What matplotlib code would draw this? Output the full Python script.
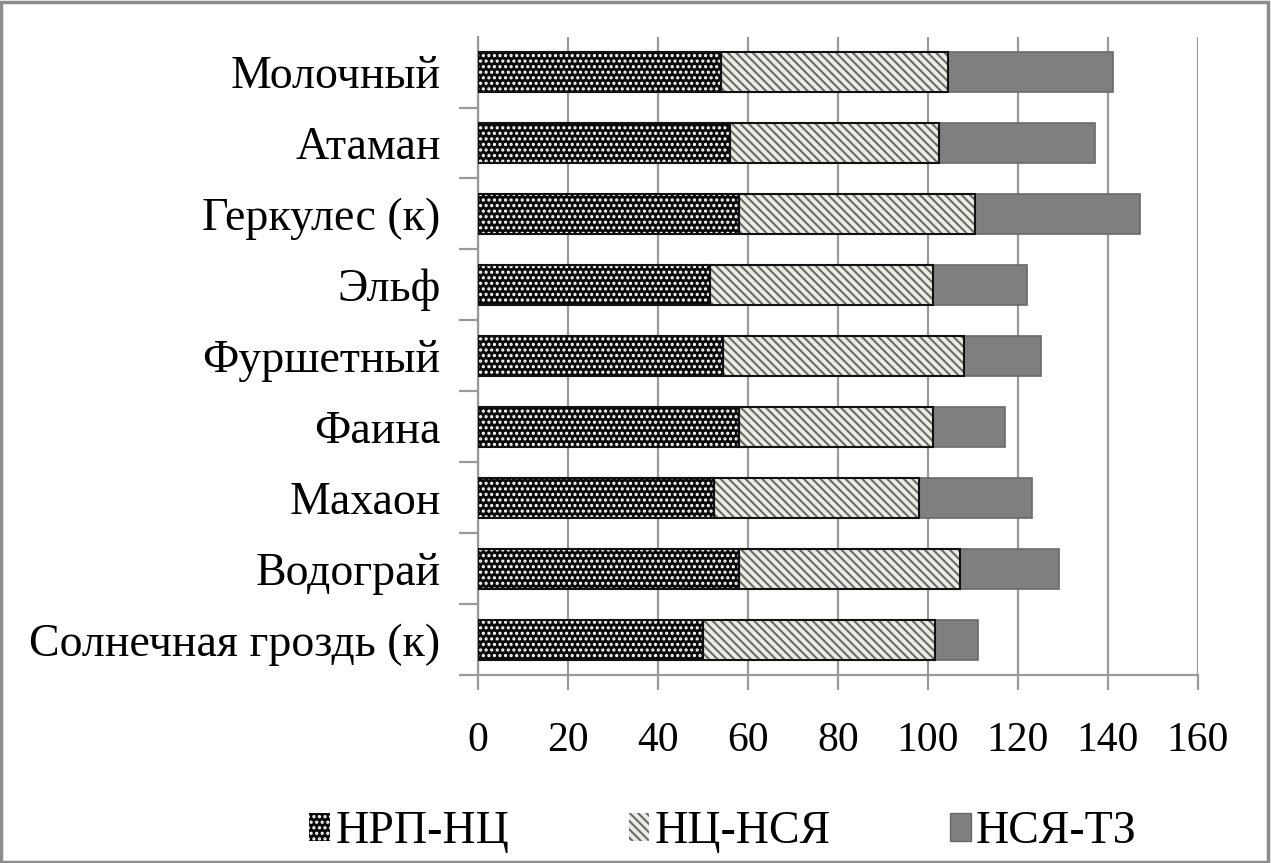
import matplotlib
matplotlib.use("Agg")
import matplotlib.pyplot as plt
from matplotlib.patches import Patch, Rectangle
import numpy as np

plt.rcParams['font.family'] = ['Liberation Serif', 'DejaVu Serif']
plt.rcParams['hatch.linewidth'] = 1.5

# Varieties (bottom to top) and stage durations, days
varieties = ["Солнечная гроздь (к)", "Водограй", "Махаон", "Фаина", "Фуршетный",
             "Эльф", "Геркулес (к)", "Атаман", "Молочный"]
nrp_nc = [50.0, 58.0, 52.5, 58.0, 54.5, 51.5, 58.0, 56.0, 54.0]
nc_nsya = [51.5, 49.0, 45.5, 43.0, 53.5, 49.5, 52.5, 46.5, 50.5]
nsya_tz = [9.5, 22.0, 25.0, 16.0, 17.0, 21.0, 36.5, 34.5, 36.5]
series_names = ["НРП-НЦ", "НЦ-НСЯ", "НСЯ-ТЗ"]
x_ticks = [0, 20, 40, 60, 80, 100, 120, 140, 160]

fig = plt.figure(figsize=(12.71, 8.63), dpi=100)
ax = fig.add_axes([0.3761, 0.2173, 0.5665, 0.7404])

y = np.arange(len(varieties))
h = 0.56
left1 = np.zeros(len(varieties))
left2 = np.array(nrp_nc)
left3 = left2 + np.array(nc_nsya)

# segment 1: black with white dots
ax.barh(y, nrp_nc, h, left=left1, color="#0a0a0a", edgecolor="white",
        hatch="...", linewidth=0, zorder=3)
ax.barh(y, nrp_nc, h, left=left1, fill=False, edgecolor="#111111",
        linewidth=1.5, zorder=4)
# segment 2: light with dark diagonal stripes
ax.barh(y, nc_nsya, h, left=left2, color="#ecece4", edgecolor="#6a6a6a",
        hatch="\\\\\\\\", linewidth=0, zorder=3)
ax.barh(y, nc_nsya, h, left=left2, fill=False, edgecolor="#111111",
        linewidth=1.5, zorder=4)
# segment 3: solid gray
ax.barh(y, nsya_tz, h, left=left3, color="#7f7f7f", edgecolor="#6a6a6a",
        linewidth=1.2, zorder=3)

ax.set_xlim(0, 160)
ax.set_ylim(-0.5, len(varieties) - 0.5)
ax.set_xticks(x_ticks)
ax.set_xticklabels([str(v) for v in x_ticks])
ax.set_yticks(y)
ax.set_yticklabels(varieties)
# category separators on the y axis (no mark at the very top)
ax.set_yticks(np.arange(-0.5, len(varieties) - 1, 1.0), minor=True)

ax.grid(axis="x", color="#9a9a9a", linewidth=1.6, zorder=0)
ax.set_axisbelow(True)
for s in ["top", "right"]:
    ax.spines[s].set_visible(False)
for s in ["left", "bottom"]:
    ax.spines[s].set_color("#9a9a9a")
    ax.spines[s].set_linewidth(1.6)

ax.tick_params(axis="x", which="major", length=11, width=1.6, color="#9a9a9a",
               labelsize=30, pad=22)
ax.tick_params(axis="y", which="major", length=0, labelsize=33, pad=27)
ax.tick_params(axis="y", which="minor", length=14, width=1.6, color="#9a9a9a")

handles = [
    Patch(facecolor="#0a0a0a", edgecolor="white", hatch="...", linewidth=0),
    Patch(facecolor="#ecece4", edgecolor="#6a6a6a", hatch="\\\\\\\\", linewidth=0),
    Patch(facecolor="#7f7f7f", edgecolor="#6a6a6a", linewidth=1),
]
fig.legend(handles, series_names, loc="center", bbox_to_anchor=(0.569, 0.036),
           ncol=3, frameon=False, fontsize=33, handlelength=0.45, handleheight=0.55,
           handletextpad=0.12, columnspacing=2.6)

# outer frame
fig.patches.append(Rectangle((0.001, 0.001), 0.997, 0.997, transform=fig.transFigure,
                             fill=False, edgecolor="#8c8c8c", linewidth=2.5))

fig.savefig("out.png", dpi=100)
